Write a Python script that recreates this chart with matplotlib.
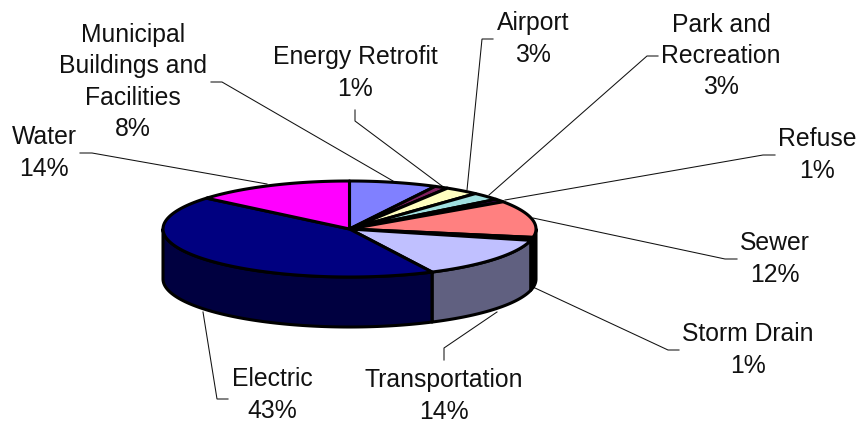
import numpy as np
import matplotlib
matplotlib.use("Agg")
import matplotlib.pyplot as plt
from matplotlib.colors import to_rgb

plt.rcParams['font.family'] = ['Liberation Sans', 'DejaVu Sans']

# slices, clockwise from 12 o'clock
categories = ["Municipal\nBuildings and\nFacilities", "Energy Retrofit", "Airport",
              "Park and\nRecreation", "Refuse", "Sewer", "Storm Drain",
              "Transportation", "Electric", "Water"]
# shares, labels show them rounded
percents = [7.6, 1.2, 3.0, 2.6, 1.0, 12.4, 1.0, 13.9, 43.4, 13.9]
colors = ["#8080FF", "#802060", "#FFFFC0", "#A0E0E0", "#600080",
          "#FF8080", "#0080C0", "#C0C0FF", "#000080", "#FF00FF"]

# label centres and leader lines, in picture pixels
label_pos = [(133, 82), (355, 73), (533, 39), (721, 56), (817, 155),
             (775, 259), (748, 350), (444, 396), (272, 395), (44, 153)]
leaders = [[(211, 82), (222, 82), (393, 181)],
           [(355, 110), (355, 121), (442, 186)],
           [(493, 39), (482, 39), (467, 190)],
           [(658, 56), (647, 56), (489, 195)],
           [(775, 155), (763, 155), (505, 200)],
           [(737, 259), (725, 259), (533, 218)],
           [(679, 350), (668, 350), (535, 288)],
           [(444, 360), (444, 348), (497, 312)],
           [(228, 399), (217, 399), (203, 312)],
           [(80, 153), (92, 153), (267, 184)]]

cx, cy = 349.5, 229
rx, ry = 186.5, 48
depth = 50

fig = plt.figure(figsize=(8.58, 4.22), dpi=100)
ax = fig.add_axes([0, 0, 1, 1])
ax.set_xlim(0, 858)
ax.set_ylim(422, 0)
ax.axis("off")


def rim(t):
    return cx + rx * np.sin(t), cy - ry * np.cos(t)


for pts in leaders:
    xs, ys = zip(*pts)
    ax.plot(xs, ys, color="#111111", lw=0.75, zorder=1, solid_joinstyle="miter")

edges = np.cumsum([0] + percents) / sum(percents) * 2 * np.pi

# side wall, only the front half of the disc shows
for i, col in enumerate(colors):
    a, b = max(edges[i], np.pi / 2), min(edges[i + 1], 3 * np.pi / 2)
    if a >= b:
        continue
    t = np.linspace(a, b, 100)
    x, y = rim(t)
    xs = np.r_[x, x[::-1]]
    ys = np.r_[y, (y + depth)[::-1]]
    shade = tuple(c * 0.5 for c in to_rgb(col))
    ax.fill(xs, ys, facecolor=shade, edgecolor="black", lw=2.2, zorder=2,
            joinstyle="round")

# top of the pie
for i, col in enumerate(colors):
    t = np.linspace(edges[i], edges[i + 1], 100)
    x, y = rim(t)
    ax.fill(np.r_[cx, x], np.r_[cy, y], facecolor=col, edgecolor="black", lw=2.2,
            zorder=3, joinstyle="round")

for name, pct, pos in zip(categories, percents, label_pos):
    ax.text(pos[0], pos[1], f"{name}\n{round(pct)}%", ha="center", va="center",
            fontsize=17.8, linespacing=1.38, color="#111111", zorder=4)

fig.savefig("out.png", dpi=100)
